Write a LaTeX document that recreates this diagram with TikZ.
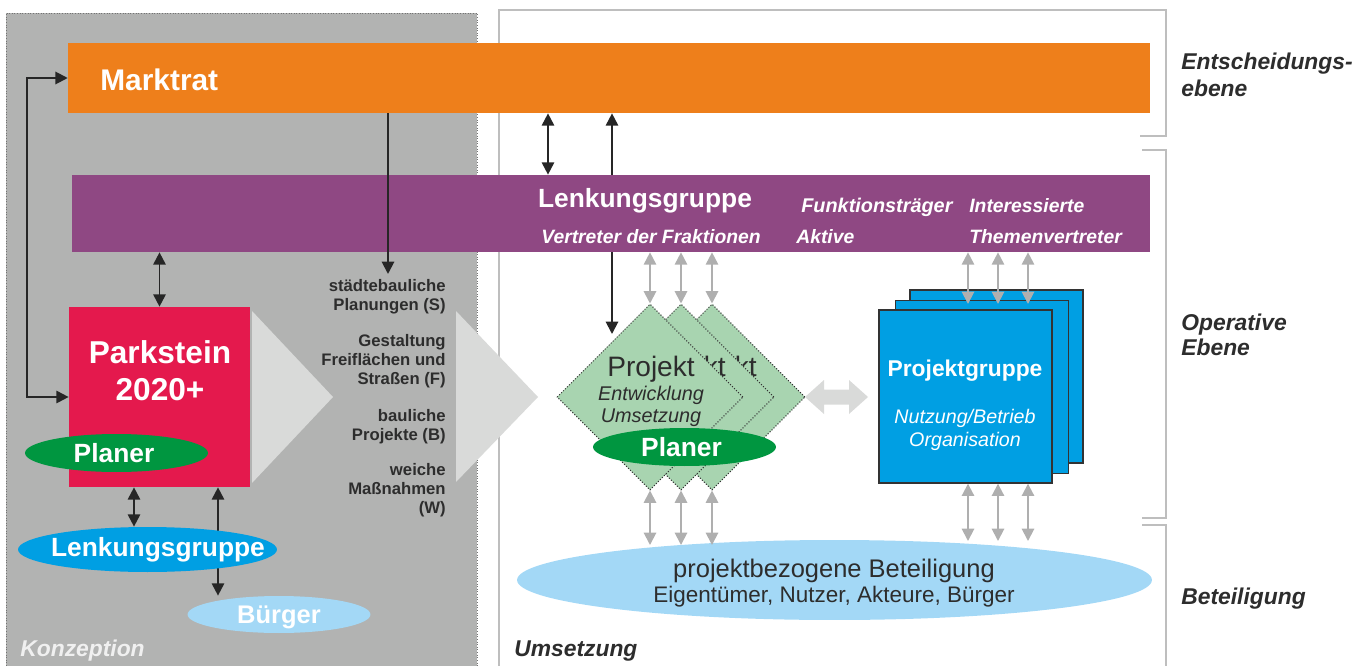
\documentclass[tikz,border=0pt]{standalone}
\usepackage{fontspec}
\setmainfont{Liberation Sans}
\usepackage{tikz}
\usetikzlibrary{arrows.meta}
\usetikzlibrary{shapes.geometric}

\definecolor{panelgray}{RGB}{178,179,178}
\definecolor{framegray}{RGB}{190,190,190}
\definecolor{chevgray}{RGB}{217,218,217}
\definecolor{arrgray}{RGB}{175,175,175}
\definecolor{marktorange}{RGB}{238,127,27}
\definecolor{lenkpurple}{RGB}{143,72,131}
\definecolor{parkred}{RGB}{228,25,77}
\definecolor{planergreen}{RGB}{0,150,64}
\definecolor{pgblue}{RGB}{0,159,227}
\definecolor{lightblue}{RGB}{163,216,246}
\definecolor{projgreen}{RGB}{168,212,176}
\definecolor{darktext}{RGB}{45,45,45}

\begin{document}
\begin{tikzpicture}[x=0.02cm,y=-0.02cm]
\tikzstyle{bar} = [rectangle,inner sep=0pt]
\tikzstyle{oval} = [ellipse,inner sep=0pt]
\tikzstyle{proj} = [diamond,aspect=1,inner sep=0pt,minimum width=3.72cm,minimum height=3.72cm,fill=projgreen,draw=black!80,densely dotted,line width=0.6pt]
\tikzstyle{pgbox} = [rectangle,inner sep=0pt,minimum size=3.46cm,fill=pgblue,draw=black!80,line width=0.8pt]
\tikzstyle{frame} = [draw=framegray,line width=1.6pt]
\tikzstyle{barrow} = [draw=black!85,line width=1.1pt,>={Triangle[length=7pt,width=7pt]}]
\tikzstyle{garrow} = [draw=arrgray,line width=1.1pt,>={Triangle[length=7pt,width=7pt]},<->]
\tikzstyle{wt} = [text=white,inner sep=0pt]
\tikzstyle{lvl} = [text=darktext,inner sep=0pt,anchor=base west,font=\fontsize{13}{15}\selectfont\bfseries\itshape]
\tikzstyle{sub} = [text=darktext,inner sep=0pt,anchor=base east,align=right,font=\fontsize{9.5}{10.6}\selectfont\bfseries]

\useasboundingbox (0,0) rectangle (1370,666);

% panels
\fill[panelgray] (6,13) rectangle (477,666);
\draw[densely dotted,black!55,line width=0.5pt] (6,666) -- (6,13) -- (477,13) -- (477,666);
\draw[frame] (1140,136) -- (1166,136) -- (1166,10) -- (499,10) -- (499,666);
\draw[frame] (1142,150) -- (1166,150) -- (1166,518) -- (1142,518);
\draw[frame] (1142,525) -- (1166,525) -- (1166,666);

\fill[chevgray] (252,311) -- (333,397) -- (252,483) -- cycle;
\fill[chevgray] (456,311) -- (538,397) -- (456,482) -- cycle;

% bars
\draw(609,78) node[bar,fill=marktorange,minimum width=21.64cm,minimum height=1.4cm] (mark) {};
\draw(611,213.5) node[bar,fill=lenkpurple,minimum width=21.56cm,minimum height=1.54cm] (lenk) {};

\draw(100,90) node[wt,anchor=base west,font=\fontsize{17}{20}\selectfont\bfseries] (marktxt) {Marktrat};
\draw(645,207) node[wt,anchor=base,font=\fontsize{15}{18}\selectfont\bfseries] (lenktxt) {Lenkungsgruppe};
\draw(541,243) node[wt,anchor=base west,font=\fontsize{11}{13}\selectfont\bfseries\itshape] (frak) {Vertreter der Fraktionen};
\draw(801,212) node[wt,anchor=base west,font=\fontsize{11.3}{13}\selectfont\bfseries\itshape] (funk) {Funktionsträger};
\draw(796,243) node[wt,anchor=base west,font=\fontsize{11}{13}\selectfont\bfseries\itshape] (aktiv) {Aktive};
\draw(969,212) node[wt,anchor=base west,font=\fontsize{11}{13}\selectfont\bfseries\itshape] (inter) {Interessierte};
\draw(969,243) node[wt,anchor=base west,font=\fontsize{11}{13}\selectfont\bfseries\itshape] (themen) {Themenvertreter};

% Konzeption
\draw(159.5,397) node[bar,fill=parkred,minimum width=3.62cm,minimum height=3.6cm] (park) {};
\draw(160,363) node[wt,anchor=base,font=\fontsize{18}{21}\selectfont\bfseries] (parktxt) {Parkstein};
\draw(160,400) node[wt,anchor=base,font=\fontsize{18}{21}\selectfont\bfseries] (parkjahr) {2020+};
\draw(116.5,453) node[oval,fill=planergreen,minimum width=3.66cm,minimum height=0.76cm] (planerL) {};
\draw(114,462) node[wt,anchor=base,font=\fontsize{15}{18}\selectfont\bfseries] (planerLtxt) {Planer};
\draw(279,614.5) node[oval,fill=lightblue,minimum width=3.66cm,minimum height=0.74cm] (buerger) {};
\draw(279,623) node[wt,anchor=base,font=\fontsize{14.5}{17}\selectfont\bfseries] (buergertxt) {Bürger};

\coordinate (xc) at (134,0);
\coordinate (xd) at (218,0);
\draw[barrow,<->] (park.south -| xd) -- (buerger.north -| xd);
\draw(147.5,549.5) node[oval,fill=pgblue,minimum width=5.18cm,minimum height=0.9cm] (lenkE) {};
\draw(158,556) node[wt,anchor=base,font=\fontsize{15}{18}\selectfont\bfseries] (lenkEtxt) {Lenkungsgruppe};
\draw[barrow,<->] (park.south -| xc) -- (lenkE.north -| xc);

\draw(20,656) node[anchor=base west,inner sep=0pt,text=white!94!black,font=\fontsize{13}{15}\selectfont\bfseries\itshape] (konz) {Konzeption};

\draw(446,310) node[sub] (subS) {städtebauliche\\Planungen (S)};
\draw(446,384) node[sub] (subF) {Gestaltung\\Freiflächen und\\Straßen (F)};
\draw(446,440) node[sub] (subB) {bauliche\\Projekte (B)};
\draw(446,513) node[sub] (subW) {weiche\\Maßnahmen\\(W)};

% Umsetzung
\draw(712,397) node[proj] (d3) {};
\draw(713,376) node[anchor=base,inner sep=0pt,text=darktext,font=\fontsize{16}{19}\selectfont] (d3txt) {Projekt};
\draw(681,397) node[proj] (d2) {};
\draw(682,376) node[anchor=base,inner sep=0pt,text=darktext,font=\fontsize{16}{19}\selectfont] (d2txt) {Projekt};
\draw(650,397) node[proj] (d1) {};
\draw(651,376) node[anchor=base,inner sep=0pt,text=darktext,font=\fontsize{16}{19}\selectfont] (d1txt) {Projekt};
\draw(651,400) node[anchor=base,inner sep=0pt,text=darktext,font=\fontsize{11.3}{13}\selectfont\itshape] (entw) {Entwicklung};
\draw(651,422) node[anchor=base,inner sep=0pt,text=darktext,font=\fontsize{11.3}{13}\selectfont\itshape] (umsetz) {Umsetzung};
\draw(684.5,447) node[oval,fill=planergreen,minimum width=3.66cm,minimum height=0.76cm] (planerR) {};
\draw(681.5,456) node[wt,anchor=base,font=\fontsize{15}{18}\selectfont\bfseries] (planerRtxt) {Planer};

\draw(996.5,376.5) node[pgbox] (pg3) {};
\draw(982,387) node[pgbox] (pg2) {};
\draw(965.5,396.5) node[pgbox] (pg1) {};
\draw(965,376) node[wt,anchor=base,font=\fontsize{13}{15}\selectfont\bfseries] (pgtxt) {Projektgruppe};
\draw(965,423) node[wt,anchor=base,font=\fontsize{11.2}{13}\selectfont\itshape] (nutz) {Nutzung/Betrieb};
\draw(965,446) node[wt,anchor=base,font=\fontsize{11.2}{13}\selectfont\itshape] (orga) {Organisation};

% double block arrow
\fill[chevgray] (805,397) -- (824,380) -- (824,389.5) -- (849,389.5) -- (849,380) -- (868,397)
  -- (849,414) -- (849,404.5) -- (824,404.5) -- (824,414) -- cycle;

\draw(834.5,580) node[oval,fill=lightblue,minimum width=12.7cm,minimum height=1.6cm] (bt) {};
\draw(834,577) node[anchor=base,inner sep=0pt,text=darktext,font=\fontsize{14.5}{17}\selectfont] (bttxt) {projektbezogene Beteiligung};
\draw(834,602) node[anchor=base,inner sep=0pt,text=darktext,font=\fontsize{12.8}{15}\selectfont] (btsub) {Eigentümer, Nutzer, Akteure, Bürger};

\draw(514,656) node[anchor=base west,inner sep=0pt,text=darktext,font=\fontsize{13}{15}\selectfont\bfseries\itshape] (umtxt) {Umsetzung};

% Ebenen
\draw(1181,70) node[lvl] (ent1) {Entscheidungs-};
\draw(1181,96) node[lvl] (ent2) {ebene};
\draw(1181,330) node[lvl] (op1) {Operative};
\draw(1181,355) node[lvl] (op2) {Ebene};
\draw(1181,604) node[lvl] (bet) {Beteiligung};

% black connectors
\coordinate (xa) at (548,0);
\coordinate (xb) at (612,0);
\coordinate (xe) at (612,334);
\coordinate (sS) at (388,274);
\draw[barrow,<->] (mark.west) -- ++(-41,0) |- (park.west);
\draw[barrow,->] (mark.south -| sS) -- (sS);
\draw[barrow,<->] (lenk.south -| park.north) -- (park.north);
\draw[barrow,<->] (mark.south -| xa) -- (lenk.north -| xa);
\draw[barrow,->] (lenk.north -| xb) -- (mark.south -| xb);
\draw[barrow,->] (lenk.south -| xb) -- (xe);

% gray connectors
\coordinate (pa) at (968,304);
\coordinate (pb) at (998,304);
\coordinate (pc) at (1028,304);
\coordinate (qa) at (968,541);
\coordinate (qb) at (998,541);
\coordinate (qc) at (1028,541);
\coordinate (ra) at (650,545);
\coordinate (rb) at (681,545);
\coordinate (rc) at (712,545);
\draw[garrow] (lenk.south -| d1.north) -- (d1.north);
\draw[garrow] (lenk.south -| d2.north) -- (d2.north);
\draw[garrow] (lenk.south -| d3.north) -- (d3.north);
\draw[garrow] (d1.south) -- (ra);
\draw[garrow] (d2.south) -- (rb);
\draw[garrow] (d3.south) -- (rc);
\draw[garrow] (lenk.south -| pa) -- (pa);
\draw[garrow] (lenk.south -| pb) -- (pb);
\draw[garrow] (lenk.south -| pc) -- (pc);
\draw[garrow] (pg1.south -| qa) -- (qa);
\draw[garrow] (pg1.south -| qb) -- (qb);
\draw[garrow] (pg1.south -| qc) -- (qc);

\end{tikzpicture}
\end{document}
